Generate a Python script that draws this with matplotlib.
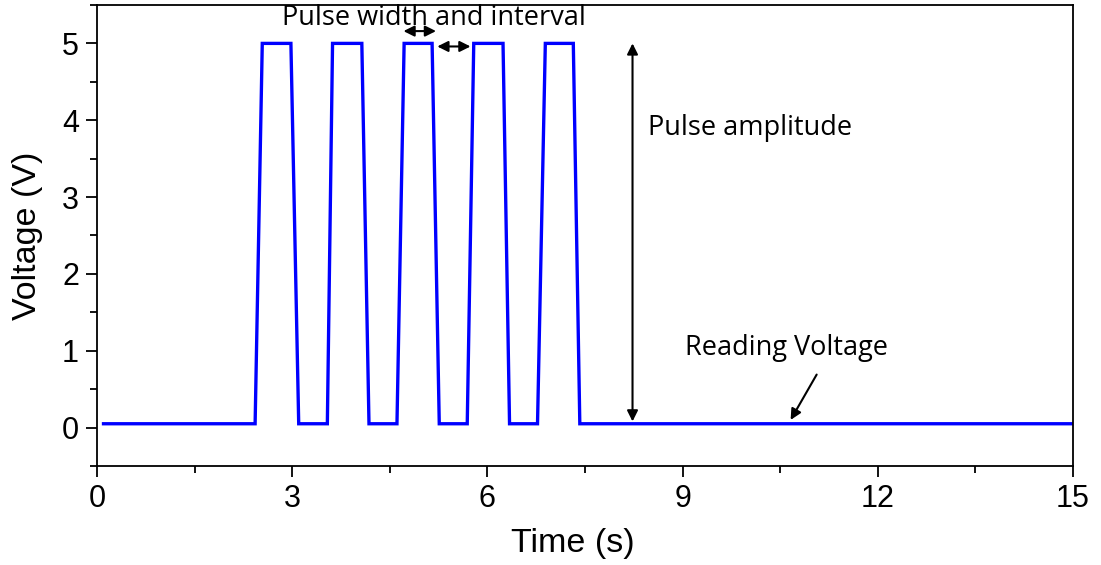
import matplotlib.pyplot as plt
import numpy as np

# vertices of the pulse train
time = [0.1, 2.43, 2.54, 2.98, 3.10, 3.54, 3.62, 4.07, 4.18, 4.61, 4.72,
        5.15, 5.26, 5.69, 5.79, 6.24, 6.34, 6.77, 6.89, 7.32, 7.42, 15.0]
volt = [0.05, 0.05, 5.0, 5.0, 0.05, 0.05, 5.0, 5.0, 0.05, 0.05, 5.0,
        5.0, 0.05, 0.05, 5.0, 5.0, 0.05, 0.05, 5.0, 5.0, 0.05, 0.05]

xticks = [0, 3, 6, 9, 12, 15]
yticks = [0, 1, 2, 3, 4, 5]

plt.rcParams['font.family'] = ['Liberation Sans', 'DejaVu Sans']
note_font = ['Open Sans', 'DejaVu Sans']

fig = plt.figure(figsize=(11.01, 5.65), dpi=100)
ax = fig.add_axes([0.0881, 0.1752, 0.8865, 0.816])

ax.plot(time, volt, color='#0000ff', lw=2.4, solid_joinstyle='miter')

ax.set_xlim(0, 15)
ax.set_ylim(-0.5, 5.5)
ax.set_xticks(xticks)
ax.set_yticks(yticks)
ax.set_xticks(np.arange(1.5, 15, 3), minor=True)
ax.set_yticks(np.arange(-0.5, 5.6, 1), minor=True)
ax.tick_params(which='major', direction='out', length=8, width=1.3,
               labelsize=22, pad=5)
ax.tick_params(which='minor', direction='out', length=5, width=1.3)
for s in ax.spines.values():
    s.set_linewidth(1.3)
ax.set_xlabel('Time (s)', fontsize=24.5, labelpad=4)
ax.xaxis.set_label_coords(0.487, -0.135)
ax.set_ylabel('Voltage (V)', fontsize=24.5)
ax.yaxis.set_label_coords(-0.055, 0.5)

arrow = dict(arrowstyle='<|-|>', color='black', lw=1.5,
             mutation_scale=16, shrinkA=0, shrinkB=0)

ax.text(5.18, 5.24, 'Pulse width and interval', fontsize=19.5,
        family=note_font, ha='center', va='baseline')
ax.annotate('', xy=(4.71, 5.16), xytext=(5.21, 5.16), arrowprops=arrow)
ax.annotate('', xy=(5.23, 4.96), xytext=(5.74, 4.96), arrowprops=arrow)

ax.annotate('', xy=(8.23, 0.08), xytext=(8.23, 5.0), arrowprops=arrow)
ax.text(8.47, 3.81, 'Pulse amplitude', fontsize=19.5,
        family=note_font, ha='left', va='baseline')

ax.text(9.04, 0.94, 'Reading Voltage', fontsize=19.5,
        family=note_font, ha='left', va='baseline')
ax.annotate('', xy=(10.66, 0.1), xytext=(11.06, 0.69),
            arrowprops=dict(arrowstyle='-|>', color='black', lw=1.5,
                            mutation_scale=16, shrinkA=0, shrinkB=0))

fig.savefig('out.png', dpi=100)
